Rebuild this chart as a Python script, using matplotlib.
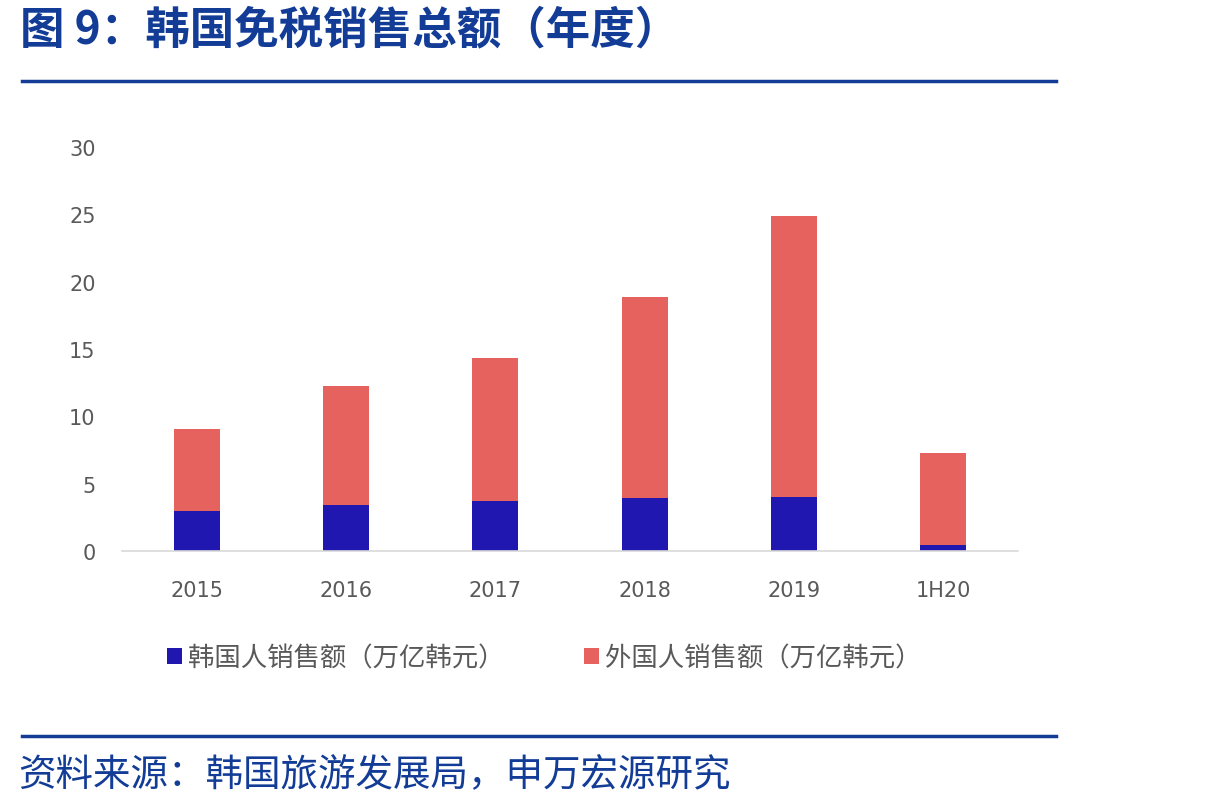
import matplotlib.pyplot as plt
from matplotlib.lines import Line2D

plt.rcParams['font.family'] = ['Noto Sans CJK SC', 'DejaVu Sans']

categories = ['2015', '2016', '2017', '2018', '2019', '1H20']
korean = [2.96, 3.41, 3.71, 3.91, 4.03, 0.45]
foreign = [6.09, 8.84, 10.62, 14.95, 20.84, 6.83]
yticks = [0, 5, 10, 15, 20, 25, 30]

title = '图 9：韩国免税销售总额（年度）'
source = '资料来源：韩国旅游发展局，申万宏源研究'
labels = ['韩国人销售额（万亿韩元）', '外国人销售额（万亿韩元）']

blue = '#2016B0'
red = '#E5625E'
dark_blue = '#123C96'
grey = '#595959'

fig = plt.figure(figsize=(12.26, 8.12), dpi=100)
ax = fig.add_axes([122 / 1226, 1 - 552 / 812, (1018 - 122) / 1226, (552 - 148) / 812])

x = range(len(categories))
ax.bar(x, korean, width=0.31, color=blue, label=labels[0])
ax.bar(x, foreign, width=0.31, bottom=korean, color=red, label=labels[1])

ax.set_xlim(-0.5, len(categories) - 0.5)
ax.set_ylim(0, 30)
ax.set_yticks(yticks)
ax.set_xticks(list(x))
ax.set_xticklabels(categories)
for s in ['top', 'right', 'left']:
    ax.spines[s].set_visible(False)
ax.spines['bottom'].set_color('#D9D9D9')
ax.spines['bottom'].set_linewidth(1.2)
ax.tick_params(axis='both', length=0, labelsize=15, labelcolor=grey)
ax.tick_params(axis='x', pad=21)
ax.tick_params(axis='y', pad=19)
for lbl in ax.get_xticklabels() + ax.get_yticklabels():
    lbl.set_fontfamily('DejaVu Sans')

ax.legend(loc='center left', bbox_to_anchor=(0.024, -0.265), ncol=2, frameon=False,
          fontsize=19, labelcolor=grey, handlelength=0.55, handleheight=0.55,
          handletextpad=0.25, columnspacing=3.0)

# header / footer decoration
fig.text(20 / 1226, 1 - 30 / 812, title, fontsize=32, fontweight='bold',
         color=dark_blue, va='center', ha='left')
fig.add_artist(Line2D([22 / 1226, 1056 / 1226], [1 - 82 / 812] * 2,
                      color=dark_blue, lw=2.5))
fig.add_artist(Line2D([22 / 1226, 1056 / 1226], [1 - 737 / 812] * 2,
                      color=dark_blue, lw=2.5))
fig.text(18 / 1226, 1 - 776 / 812, source, fontsize=27, color=dark_blue,
         va='center', ha='left')

fig.savefig('out.png', dpi=100)
